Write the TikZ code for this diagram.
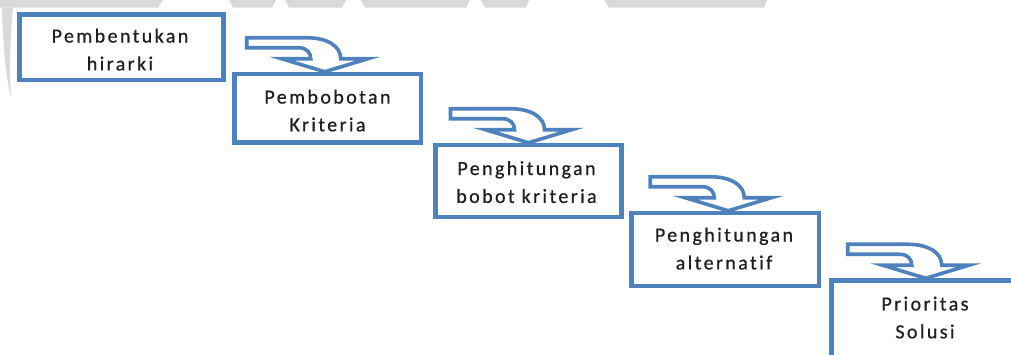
\documentclass[tikz,border=0pt]{standalone}
\usepackage{fontspec}
\setmainfont{Carlito}
\newfontfamily\stepfont{Carlito}[LetterSpace=12,Ligatures={NoCommon},FakeBold=0.6]
\usetikzlibrary{calc}
\definecolor{boxblue}{RGB}{79,129,189}
\definecolor{wmgray}{RGB}{217,217,217}
\newcommand{\tstrut}{\rule[-13pt]{0pt}{26pt}}
\begin{document}
\begin{tikzpicture}[x=1pt,y=-1pt,
  stepbox/.style={draw=boxblue, line width=4.5pt, fill=white, rectangle, inner sep=0pt},
  steptext/.style={font=\stepfont\fontsize{20}{26}\selectfont, align=center, inner sep=0pt, text=black!88},
  bendarrow/.style={draw=boxblue, line width=3.6pt, fill=white, line join=miter},
  wmark/.style={fill=wmgray, draw=none}]
\useasboundingbox (0,0) rectangle (1011,354);
\clip (0,0) rectangle (1011,354);
\fill[white] (0,0) rectangle (1011,354);
% faint watermark remnants
\fill[wmark] (0,0) -- (163,0) -- (158,7.5) -- (0,7.5) -- cycle;
\fill[wmark] (229,0) -- (276,0) -- (272,7.5) -- (233,7.5) -- cycle;
\fill[wmark] (285,0) -- (346,0) -- (342,7.5) -- (289,7.5) -- cycle;
\fill[wmark] (361,0) -- (470,0) -- (466,7.5) -- (365,7.5) -- cycle;
\fill[wmark] (481,0) -- (529,0) -- (526,7.5) -- (485,7.5) -- cycle;
\fill[wmark] (604,0) -- (767,0) -- (764,7.5) -- (609,7.5) -- cycle;
\fill[wmark] (0,7.5) -- (13,7.5) .. controls (10,40) and (9,70) .. (11,97) .. controls (5,75) and (3,40) .. (2,7.5) -- cycle;
% boxes
\node[stepbox, minimum width=204pt, minimum height=65.5pt] (b1) at (121.5,47.25) {};
\node[stepbox, minimum width=186.5pt, minimum height=68.5pt] (b2) at (327.75,108.25) {};
\node[stepbox, minimum width=186pt, minimum height=72pt] (b3) at (528.5,181) {};
\node[stepbox, minimum width=187.5pt, minimum height=73pt] (b4) at (725.25,249.5) {};
\node[stepbox, minimum width=188.5pt, minimum height=80pt] (b5) at (925.75,320.5) {};
% texts
\node[steptext] (t1) at (120,56) {\tstrut Pembentukan\\\tstrut hirarki};
\node[steptext] (t2) at (327.5,117) {\tstrut Pembobotan\\\tstrut Kriteria};
\node[steptext] (t3) at (526.5,188.5) {\tstrut Penghitungan\\\tstrut bobot kriteria};
\node[steptext] (t4) at (724,255) {\tstrut Penghitungan\\\tstrut alternatif};
\node[steptext] (t5) at (925,324) {\tstrut Prioritas\\\tstrut Solusi};
% arrow tips on the next box
\coordinate (a1) at ($(b2.north)+(-3,0)$);
\coordinate (a2) at ($(b3.north)+(0,0)$);
\coordinate (a3) at ($(b4.north)+(3,0)$);
\coordinate (a4) at ($(b5.north)+(0,0)$);
\foreach \t in {a1,a2,a3,a4}{
  \draw[bendarrow, shift={(\t)}]
    (-78,-34) -- (-18,-34) .. controls (2,-34) and (16,-26) .. (16,-13)
    -- (43,-13) -- (0,0) -- (-43,-13) -- (-14,-13)
    .. controls (-14,-19) and (-18,-24) .. (-26,-24) -- (-78,-24) -- cycle;
}
\end{tikzpicture}
\end{document}
